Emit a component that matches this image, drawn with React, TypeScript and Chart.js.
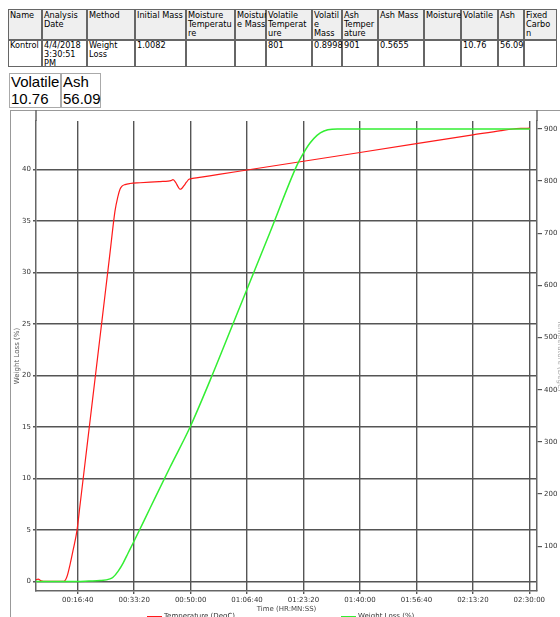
import React, { useEffect, useRef } from "react";
import { Chart, registerables } from "chart.js";

Chart.register(...registerables);

// ---------- data ----------
const tableHeaders: string[][] = [
  ["Name"],
  ["Analysis", "Date"],
  ["Method"],
  ["Initial Mass"],
  ["Moisture", "Temperatu", "re"],
  ["Moistur", "e Mass"],
  ["Volatile", "Temperat", "ure"],
  ["Volatil", "e", "Mass"],
  ["Ash", "Temper", "ature"],
  ["Ash Mass"],
  ["Moisture"],
  ["Volatile"],
  ["Ash"],
  ["Fixed", "Carbo", "n"],
];
const tableValues: string[][] = [
  ["Kontrol"],
  ["4/4/2018", "3:30:51", "PM"],
  ["Weight", "Loss"],
  ["1.0082"],
  [""],
  [""],
  ["801"],
  ["0.8998"],
  ["901"],
  ["0.5655"],
  [""],
  ["10.76"],
  ["56.09"],
  [""],
];
const summaryLabels = ["Volatile", "Ash"];
const summaryValues = ["10.76", "56.09"];

const xTickValues = [1000, 2000, 3000, 4000, 5000, 6000, 7000, 8000, 9000];
const leftTickValues = [0, 5, 10, 15, 20, 25, 30, 35, 40];
const rightTickValues = [100, 200, 300, 400, 500, 600, 700, 800, 900];

const seriesNames = ["Temperature (DegC)", "Weight Loss (%)"];

// Temperature (DegC), seconds
const tempTime = [261, 300, 350, 450, 600, 757, 810, 864, 917, 988, 1041, 1129, 1218, 1306, 1395, 1483, 1572, 1660, 1714, 1749, 1785, 1838, 1926, 2104, 2281, 2458, 2600, 2650, 2688, 2741, 2776, 2812, 2847, 2883, 2930, 2971, 3100, 3500, 4000, 5000, 6000, 7000, 8000, 8500, 8711, 8850, 9012];
const tempValues = [36, 37, 34, 33, 33, 33, 42, 65, 92, 131, 179, 259, 340, 420, 501, 581, 662, 742, 771, 784, 790, 793, 795, 796.5, 797.8, 798.8, 799.5, 800.5, 802.5, 796, 789, 784, 786, 791, 798, 803, 805.8, 812.5, 820.9, 837.7, 854.5, 871.3, 888.1, 896.5, 899.5, 900.5, 901];

// Weight loss (%), seconds
const lossTime = [261, 600, 988, 1200, 1395, 1572, 1625, 1714, 1802, 1891, 1980, 2281, 2635, 2989, 3343, 3875, 4407, 4885, 4992, 5115, 5239, 5363, 5505, 5600, 7000, 9012];
const lossValues = [0, 0, 0, 0.05, 0.1, 0.27, 0.42, 1.0, 1.78, 2.75, 3.72, 7.12, 11.1, 14.98, 19.5, 26.7, 33.9, 40.41, 41.5, 42.55, 43.3, 43.72, 43.9, 43.91, 43.91, 43.91];

// ---------- styles ----------
const colWidths = [34, 45, 48, 51, 49, 31, 46, 30, 36, 46, 37, 37, 26, 33];
const RED = "#ff1a1a";
const GREEN = "#33ee33";
const GRID = "#555555";
const AXIS = "#666666";
const FONT = "DejaVu Sans";

const fmtTime = (s: number) => {
  const h = Math.floor(s / 3600);
  const m = Math.floor((s % 3600) / 60);
  const sec = Math.round(s % 60);
  return [h, m, sec].map((v) => String(v).padStart(2, "0")).join(":");
};

const frameExtend = {
  id: "frameExtend",
  afterDraw(chart: any) {
    const { ctx, chartArea } = chart;
    ctx.save();
    ctx.strokeStyle = AXIS;
    ctx.lineWidth = 1.5;
    ctx.beginPath();
    ctx.moveTo(chartArea.left, 0);
    ctx.lineTo(chartArea.left, chartArea.top);
    ctx.moveTo(chartArea.right, 0);
    ctx.lineTo(chartArea.right, chartArea.top);
    ctx.stroke();
    ctx.restore();
  },
};

function ChartCanvas() {
  const ref = useRef<HTMLCanvasElement | null>(null);
  useEffect(() => {
    if (!ref.current) return;
    const tickFont = { family: FONT, size: 7 };
    const chart = new Chart(ref.current, {
      type: "line",
      data: {
        datasets: [
          {
            label: seriesNames[1],
            data: lossTime.map((t, i) => ({ x: t, y: lossValues[i] })),
            borderColor: GREEN,
            backgroundColor: GREEN,
            borderWidth: 1.5,
            pointRadius: 0,
            cubicInterpolationMode: "monotone",
            yAxisID: "y",
          },
          {
            label: seriesNames[0],
            data: tempTime.map((t, i) => ({ x: t, y: tempValues[i] })),
            borderColor: RED,
            backgroundColor: RED,
            borderWidth: 1.2,
            pointRadius: 0,
            cubicInterpolationMode: "monotone",
            yAxisID: "y1",
          },
        ],
      },
      options: {
        responsive: false,
        animation: false,
        devicePixelRatio: 1,
        layout: { padding: { top: 11, left: 0, right: 0, bottom: 0 } },
        plugins: { legend: { display: false }, tooltip: { enabled: false } },
        scales: {
          x: {
            type: "linear",
            position: "bottom",
            min: 261,
            max: 9136,
            afterBuildTicks: (s: any) => {
              s.ticks = xTickValues.map((v) => ({ value: v }));
            },
            afterFit: (s: any) => {
              s.height = 26;
            },
            ticks: {
              font: tickFont,
              color: "#333",
              padding: 2,
              maxRotation: 0,
              autoSkip: false,
              callback: (v: any) => fmtTime(Number(v)),
            },
            grid: { color: GRID, lineWidth: 1.4, tickLength: 3 },
            border: { display: true, color: AXIS, width: 1.5 },
            title: {
              display: true,
              text: "Time (HR:MN:SS)",
              font: tickFont,
              color: "#444",
              padding: { top: 0, bottom: 3.8 },
            },
          },
          y: {
            type: "linear",
            position: "left",
            min: -0.91,
            max: 44.69,
            afterBuildTicks: (s: any) => {
              s.ticks = leftTickValues.map((v) => ({ value: v }));
            },
            afterFit: (s: any) => {
              s.width = 26;
            },
            ticks: { font: tickFont, color: "#333", padding: 2, autoSkip: false },
            grid: { color: GRID, lineWidth: 1.4, tickLength: 3 },
            border: { display: true, color: AXIS, width: 1.5 },
            title: {
              display: true,
              text: seriesNames[1],
              font: tickFont,
              color: "#555",
              padding: { top: 2.8, bottom: 0 },
            },
          },
          y1: {
            type: "linear",
            position: "right",
            min: 14.3,
            max: 914.8,
            afterBuildTicks: (s: any) => {
              s.ticks = rightTickValues.map((v) => ({ value: v }));
            },
            afterFit: (s: any) => {
              s.width = 35;
            },
            ticks: { font: tickFont, color: "#333", padding: 2, autoSkip: false },
            grid: { drawOnChartArea: false, color: GRID, lineWidth: 1.2, tickLength: 5 },
            border: { display: true, color: AXIS, width: 1.5 },
            title: {
              display: true,
              text: seriesNames[0],
              font: tickFont,
              color: "#aaa",
              padding: { top: 7.8, bottom: 0 },
            },
          },
        },
      },
      plugins: [frameExtend],
    } as any);
    return () => chart.destroy();
  }, []);
  return (
    <canvas
      ref={ref}
      width={562}
      height={507}
      style={{ position: "absolute", left: 10, top: 110, width: 562, height: 507 }}
    />
  );
}

export default function App() {
  let x = 8;
  const cols = colWidths.map((w) => {
    const left = x;
    x += w;
    return left;
  });
  const cellText = (lines: string[]) =>
    lines.map((l, i) => (
      <div key={i} style={{ whiteSpace: "nowrap", height: 9 }}>
        {l}
      </div>
    ));
  return (
    <div
      style={{
        position: "absolute",
        left: 0,
        top: 0,
        width: 560,
        height: 617,
        overflow: "hidden",
        background: "#fff",
        fontFamily: FONT,
        color: "#000",
      }}
    >
      {tableHeaders.map((h, i) => (
        <div
          key={"h" + i}
          style={{
            position: "absolute",
            left: cols[i],
            top: 9,
            width: colWidths[i],
            height: 31,
            boxSizing: "border-box",
            border: "1px solid #666",
            background: "#efefef",
            fontSize: 8.2,
            lineHeight: "9px",
            padding: "1px 0 0 1px",
          }}
        >
          {cellText(h)}
        </div>
      ))}
      {tableValues.map((v, i) => (
        <div
          key={"v" + i}
          style={{
            position: "absolute",
            left: cols[i],
            top: 40,
            width: colWidths[i],
            height: 27,
            boxSizing: "border-box",
            border: "1px solid #666",
            background: "#fff",
            fontSize: 8.2,
            lineHeight: "9px",
            padding: "0 0 0 1px",
          }}
        >
          {cellText(v)}
        </div>
      ))}
      {summaryLabels.map((lab, i) => (
        <div
          key={"s" + i}
          style={{
            position: "absolute",
            left: i === 0 ? 9 : 61,
            top: 73,
            width: i === 0 ? 52 : 40,
            height: 35,
            boxSizing: "border-box",
            border: "1px solid #aaa",
            fontFamily: "Liberation Sans",
            fontSize: 15,
            lineHeight: "16.5px",
            padding: "0 0 0 1px",
          }}
        >
          <div style={{ whiteSpace: "nowrap" }}>{lab}</div>
          <div style={{ whiteSpace: "nowrap" }}>{summaryValues[i]}</div>
        </div>
      ))}
      <div
        style={{
          position: "absolute",
          left: 10,
          top: 110,
          width: 560,
          height: 520,
          borderLeft: "1px solid #999",
          borderTop: "1px solid #999",
        }}
      />
      <ChartCanvas />
      {[
        { name: seriesNames[0], color: RED, left: 147 },
        { name: seriesNames[1], color: GREEN, left: 341 },
      ].map((it) => (
        <div
          key={it.name}
          style={{
            position: "absolute",
            left: it.left,
            top: 612,
            height: 12,
            display: "flex",
            alignItems: "flex-start",
            fontSize: 7,
            lineHeight: "9px",
            color: "#333",
            whiteSpace: "nowrap",
          }}
        >
          <span
            style={{
              display: "inline-block",
              width: 15,
              height: 2,
              background: it.color,
              marginTop: 4,
              marginRight: 2,
            }}
          />
          <span>{it.name}</span>
        </div>
      ))}
    </div>
  );
}
